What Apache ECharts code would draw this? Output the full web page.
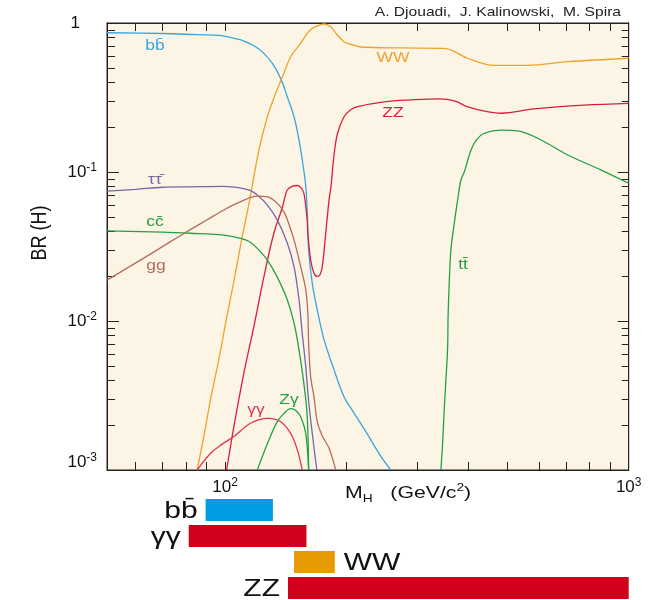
<!DOCTYPE html>
<html><head><meta charset="utf-8">
<script src="https://cdn.jsdelivr.net/npm/echarts@6/dist/echarts.min.js"></script>
<style>html,body{margin:0;padding:0;background:#fff}#c{width:651px;height:600px}</style>
</head><body><div id="c"></div>
<script>
// ---------- data ----------
const xTickValues = [60,70,80,90,100,200,300,400,500,600,700,800,900];
const xLabelValues = [100,1000];
const yMajorValues = [0.001,0.01,0.1,1];
const yMinorValues = [0.002,0.003,0.004,0.005,0.006,0.007,0.008,0.009,
                      0.02,0.03,0.04,0.05,0.06,0.07,0.08,0.09,
                      0.2,0.3,0.4,0.5,0.6,0.7,0.8,0.9];

const bbCurve = [[51,0.86],[70,0.85],[85,0.835],[97,0.825],[101,0.81],[111,0.76],[117,0.71],[123.7,0.64],[131,0.535],[137.3,0.425],[142.6,0.32],[148.2,0.235],[152.5,0.164],[156.3,0.108],[158.5,0.08],[159.8,0.055],[161.1,0.03],[164.5,0.0178],[169.3,0.0118],[175.9,0.0075],[186.2,0.0047],[197.1,0.0031],[205,0.0026],[225,0.00175],[243,0.00124],[257.5,0.001]];
const wwCurve = [[85.3,0.001],[88.9,0.00176],[92.1,0.003],[96.5,0.0055],[100.7,0.0102],[105.3,0.0188],[109.9,0.035],[114.7,0.062],[121.3,0.14],[127.3,0.235],[133.5,0.337],[139.9,0.46],[145.4,0.594],[153.9,0.731],[159.8,0.853],[164,0.915],[169.3,0.955],[175.9,0.985],[182.7,0.944],[189.8,0.831],[197.1,0.749],[204.8,0.72],[216.8,0.69],[272.5,0.68],[349.4,0.676],[398.7,0.58],[464.4,0.52],[562.1,0.52],[706.9,0.55],[1000,0.58]];
const zzCurve = [[100.9,0.001],[105.2,0.00196],[111.3,0.00445],[117.9,0.0092],[124.8,0.0198],[132.1,0.0388],[138.7,0.058],[142.6,0.0757],[147,0.0805],[151,0.0812],[154.5,0.078],[156.8,0.0719],[158.5,0.0586],[159.8,0.0476],[160.4,0.0388],[163,0.0256],[166,0.021],[169.3,0.0199],[172,0.0205],[174.2,0.0233],[177.6,0.0388],[181,0.065],[183,0.08],[186.2,0.13],[189.8,0.18],[197.1,0.235],[204.8,0.262],[213,0.275],[248,0.296],[290,0.305],[340,0.31],[370,0.3],[398,0.275],[440,0.256],[483,0.248],[583,0.265],[776,0.281],[1000,0.289]];
const tautauCurve = [[51,0.0745],[60,0.0765],[70,0.079],[82,0.0795],[99.3,0.08],[109.3,0.078],[115,0.0755],[120.2,0.07],[127.3,0.06],[134.7,0.0477],[142.6,0.0334],[148.2,0.0232],[152.5,0.0139],[155.3,0.0083],[158.5,0.0049],[161.1,0.0029],[164.5,0.00175],[168.8,0.001]];
const ccCurve = [[51,0.0402],[70,0.0395],[82.1,0.0388],[99.3,0.0377],[109.3,0.0359],[115,0.034],[120.2,0.0307],[127.3,0.0256],[134.7,0.0197],[142.6,0.0139],[148.2,0.0097],[152.5,0.0064],[156.8,0.0038],[159.8,0.0023],[161.1,0.001]];
const ggCurve = [[51,0.0188],[65,0.0279],[80,0.0394],[90.3,0.0478],[99.3,0.0556],[109.3,0.0632],[120.2,0.0688],[127.3,0.068],[134.7,0.0617],[139.9,0.054],[142.6,0.048],[148.2,0.035],[153.9,0.0232],[158.5,0.0162],[160.4,0.0112],[161.2,0.0067],[163,0.0042],[166.1,0.0031],[169.3,0.0021],[174,0.0017],[181,0.0014],[188,0.001]];
const gamgamCurve = [[85.3,0.001],[92,0.00129],[98,0.00148],[105.2,0.00168],[115.7,0.00206],[127.3,0.00222],[137.3,0.00211],[145.4,0.00176],[151,0.00137],[155.3,0.001]];
const zgamCurve = [[120.2,0.001],[127.3,0.0015],[134.7,0.00211],[140,0.0024],[145.4,0.00258],[150,0.0025],[153.9,0.00228],[158.5,0.00175],[161.1,0.001]];
const topCurve = [[342.5,0.001],[345.9,0.0015],[349,0.0025],[352.4,0.004],[355.9,0.0065],[357,0.011],[359.2,0.0178],[362.7,0.03],[369.6,0.045],[376.9,0.065],[384,0.088],[391.4,0.1],[406.6,0.14],[420,0.165],[438.7,0.182],[482.7,0.191],[531,0.189],[606.6,0.164],[706.6,0.13],[854.8,0.103],[1000,0.084]];

const barNames = ['bb\u0304','\u03b3\u03b3','WW','ZZ'];
const barStart = [89.5,81.3,148.2,143.2];
const barEnd = [131.4,159.1,187,1000];

// ---------- styles ----------
const FONT = "'Liberation Sans', Arial, Helvetica, sans-serif";
const SX = 1.25;
const C = {blue:'#35a6e0', orange:'#f0a22a', red:'#d81e3e', purple:'#7664ad', green:'#22a044', brown:'#b46c5c', red2:'#e23550'};
const barColors = ['#009fe3','#d0021b','#e69b00','#d0021b'];

const curves = [
  {d: bbCurve, c: C.blue}, {d: wwCurve, c: C.orange}, {d: zzCurve, c: C.red},
  {d: tautauCurve, c: C.purple}, {d: ccCurve, c: C.green}, {d: ggCurve, c: C.brown},
  {d: gamgamCurve, c: C.red2}, {d: zgamCurve, c: C.green}, {d: topCurve, c: C.green}
];

function txt(text, x, y, size, color, align, extra) {
  return Object.assign({type:'text', x:x, y:y, scaleX:SX, silent:true, z:10,
    style:{text:text, x:0, y:0, fontSize:size, fontFamily:FONT, fill:color, align:align||'center', verticalAlign:'middle'}}, extra||{});
}

const lineCol = '#222';
function xAx(position, labels) {
  return {gridIndex:0, type:'log', logBase:10, min:51, max:1000, position:position,
    axisLine:{show:true, onZero:false, lineStyle:{color:lineCol, width:1}},
    axisTick:{show:true, inside:true, length:8, customValues:xTickValues, lineStyle:{color:lineCol}},
    minorTick:{show:false}, splitLine:{show:false},
    axisLabel: labels ? {show:true, customValues:xLabelValues, margin:7, color:'#111', fontFamily:FONT,
      formatter: v => '{b|10}{s|' + Math.round(Math.log10(v)) + '}',
      rich:{b:{fontSize:17, fontFamily:FONT, color:'#111', lineHeight:20}, s:{fontSize:12, fontFamily:FONT, color:'#111', lineHeight:12, verticalAlign:'top'}}} : {show:false}
  };
}
function yAx(position, vals, len, labels) {
  return {gridIndex:0, type:'log', logBase:10, min:0.001, max:1, position:position,
    axisLine:{show:true, onZero:false, lineStyle:{color:lineCol, width:1}},
    axisTick:{show:true, inside:true, length:len, customValues:vals, lineStyle:{color:lineCol}},
    minorTick:{show:false}, splitLine:{show:false},
    axisLabel: labels ? {show:true, customValues:yMajorValues, margin:10, align:'right',
      formatter: v => {
        if (Math.abs(v-1) < 1e-9) return '{one|1}';
        const e = Math.round(Math.log10(v));
        if (e === -3) return '{b|10}{s|' + e + '}\n{gap| }';
        return '{b|10}{s|' + e + '}';
      },
      rich:{one:{fontSize:17, fontFamily:FONT, color:'#111', padding:[0,17,0,0]},
            b:{fontSize:17, fontFamily:FONT, color:'#111', lineHeight:20},
            s:{fontSize:12, fontFamily:FONT, color:'#111', lineHeight:12, verticalAlign:'top'},
            gap:{fontSize:2, lineHeight:16}}} : {show:false}
  };
}

const chart = echarts.init(document.getElementById('c'), null, {renderer:'canvas'});
chart.setOption({
  animation:false,
  backgroundColor:'#ffffff',
  grid:[
    {left:107, top:23, width:521.7, height:447, show:true, backgroundColor:'#fcf5e5', borderColor:lineCol, borderWidth:1, outerBoundsMode:'none', containLabel:false},
    {left:107, top:497, width:521.7, height:104, show:false, outerBoundsMode:'none', containLabel:false}
  ],
  xAxis:[ xAx('bottom', true), xAx('top', false),
    {gridIndex:1, type:'log', logBase:10, min:51, max:1000, show:false} ],
  yAxis:[ yAx('left', yMajorValues, 12, true), yAx('left', yMinorValues, 8, false),
    yAx('right', yMajorValues, 11, false), yAx('right', yMinorValues, 7, false),
    {gridIndex:1, type:'category', data:barNames, inverse:true, show:false} ],
  series: curves.map(cv => ({type:'line', xAxisIndex:0, yAxisIndex:0, data:cv.d, symbol:'none', showSymbol:false,
      smooth:0.35, clip:true, silent:true, z:3,
      lineStyle:{color:cv.c, width:1.3}, itemStyle:{color:cv.c}}))
    .concat([{
      type:'custom', xAxisIndex:2, yAxisIndex:4, silent:true, clip:false,
      data: barNames.map((n,i) => [barStart[i], barEnd[i], i]),
      encode:{x:[0,1], y:2},
      renderItem:function(params, api){
        const i = api.value(2);
        const p0 = api.coord([api.value(0), i]);
        const p1 = api.coord([api.value(1), i]);
        const h = api.size([1,1])[1] * 0.84;
        const name = barNames[i];
        const right = name === 'WW';
        return {type:'group', children:[
          {type:'rect', shape:{x:p0[0], y:p0[1]-h/2, width:p1[0]-p0[0], height:h}, style:{fill:barColors[i]}},
          {type:'text', x: right ? p1[0]+9 : p0[0]-8, y:p0[1]+1, scaleX:1.25,
            style:{text:name, x:0, y:0, align: right ? 'left' : 'right', verticalAlign:'middle', fontSize:24, fontFamily:FONT, fill:'#111'}}
        ]};
      }
    }]),
  graphic:[
    txt('A. Djouadi,  J. Kalinowski,  M. Spira', 621, 12, 13, '#222', 'right', {scaleX:1.2}),
    {type:'text', x:40, y:233, rotation:Math.PI/2, scaleY:1.2, silent:true,
      style:{text:'BR (H)', x:0, y:0, fontSize:18, fontFamily:FONT, fill:'#111', align:'center', verticalAlign:'middle'}},
    {type:'text', x:345, y:493, scaleX:1.25, silent:true,
      style:{text:'{m|M}{sub|H}{m|   (GeV/c}{sup|2}{m|)}', x:0, y:0, align:'left', verticalAlign:'middle', fontFamily:FONT, fill:'#111',
        rich:{m:{fontSize:17, fontFamily:FONT, fill:'#111', lineHeight:22},
              sub:{fontSize:11, fontFamily:FONT, fill:'#111', lineHeight:11, verticalAlign:'bottom'},
              sup:{fontSize:11, fontFamily:FONT, fill:'#111', lineHeight:11, verticalAlign:'top'}}}},
    txt('bb\u0304', 155, 46, 14, C.blue),
    txt('\u03c4\u03c4\u0304', 155, 180, 14, C.purple),
    txt('cc\u0304', 155, 222, 14, C.green),
    txt('gg', 156, 266, 14, C.brown),
    txt('WW', 393, 58, 14, C.orange),
    txt('ZZ', 393, 113, 14, C.red),
    txt('tt\u0304', 463, 265, 14, C.green),
    txt('\u03b3\u03b3', 256, 410, 14, C.red2),
    txt('Z\u03b3', 289, 400, 14, C.green)
  ]
});
</script>
</body></html>
